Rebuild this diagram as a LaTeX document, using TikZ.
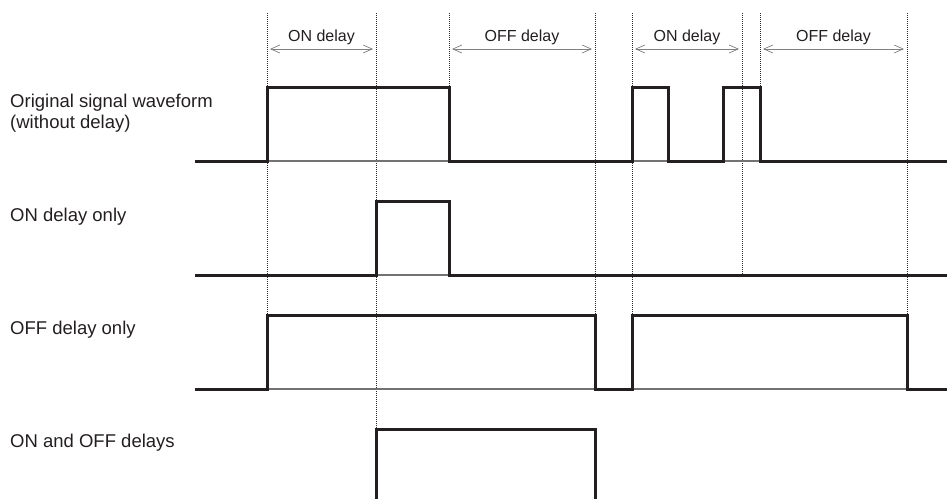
\documentclass[tikz,border=0pt]{standalone}
\usepackage{fontspec}
\setmainfont{Liberation Sans}
\usetikzlibrary{arrows.meta}
\definecolor{wave}{HTML}{231F20}
\definecolor{guide}{HTML}{2A2A2A}
\tikzset{
  sig/.style={line width=3pt, wave, line join=miter},
  base/.style={line width=1.1pt, gray!90!black},
  guideline/.style={guide, line width=1pt, dash pattern=on 1pt off 1pt},
  dly/.style={gray, line width=0.7pt,
    {Straight Barb[length=9pt,width=8pt]}-{Straight Barb[length=9pt,width=8pt]}},
  lbl/.style={anchor=base west, inner sep=0pt, text=wave, font=\fontsize{18.5}{21}\selectfont},
  dlbl/.style={anchor=base, inner sep=0pt, text=wave, font=\fontsize{16}{19}\selectfont},
}
\begin{document}
\begin{tikzpicture}[x=1pt, y=-1pt]
\useasboundingbox (0,0) rectangle (947,498);
% dotted time marks
\foreach \x/\y in {267/315, 376/429, 449/87, 595/315, 632/315, 742/275, 760/87, 907/315}
  \draw[guideline] (\x,13) -- (\x,\y);
% arrow ends
\foreach \n/\x in {a/267, b/376, c/449, d/595, e/632, f/742, g/760, h/907}
  \coordinate (\n) at (\x,49);
% delay arrows
\draw[dly] ([xshift=3pt]a) -- ([xshift=-3pt]b) node[dlbl, midway, yshift=8pt] (on1) {ON delay};
\draw[dly] ([xshift=3pt]c) -- ([xshift=-3pt]d) node[dlbl, midway, yshift=8pt] (off1) {OFF delay};
\draw[dly] ([xshift=3pt]e) -- ([xshift=-3pt]f) node[dlbl, midway, yshift=8pt] (on2) {ON delay};
\draw[dly] ([xshift=3pt]g) -- ([xshift=-3pt]h) node[dlbl, midway, yshift=8pt] (off2) {OFF delay};
% row labels
\node[lbl] (orig) at (10,107) {Original signal waveform};
\node[lbl] (orig2) at (10,128) {(without delay)};
\node[lbl] (ondl) at (10,221) {ON delay only};
\node[lbl] (offdl) at (10,334) {OFF delay only};
\node[lbl] (both) at (10,447) {ON and OFF delays};
% thin base lines
\foreach \y in {161, 275, 389}
  \draw[base] (195,\y) -- (947,\y);
% Original signal
\draw[sig] (195,161) -- (267,161) -- (267,87) -- (449,87) -- (449,161)
  -- (632,161) -- (632,87) -- (668,87) -- (668,161)
  -- (723,161) -- (723,87) -- (760,87) -- (760,161) -- (947,161);
% ON delay only
\draw[sig] (195,275) -- (376,275) -- (376,201) -- (449,201) -- (449,275) -- (947,275);
% OFF delay only
\draw[sig] (195,389) -- (267,389) -- (267,315) -- (595,315) -- (595,389)
  -- (632,389) -- (632,315) -- (907,315) -- (907,389) -- (947,389);
% ON and OFF delays
\draw[sig] (376,500) -- (376,429) -- (595,429) -- (595,500);
\end{tikzpicture}
\end{document}
